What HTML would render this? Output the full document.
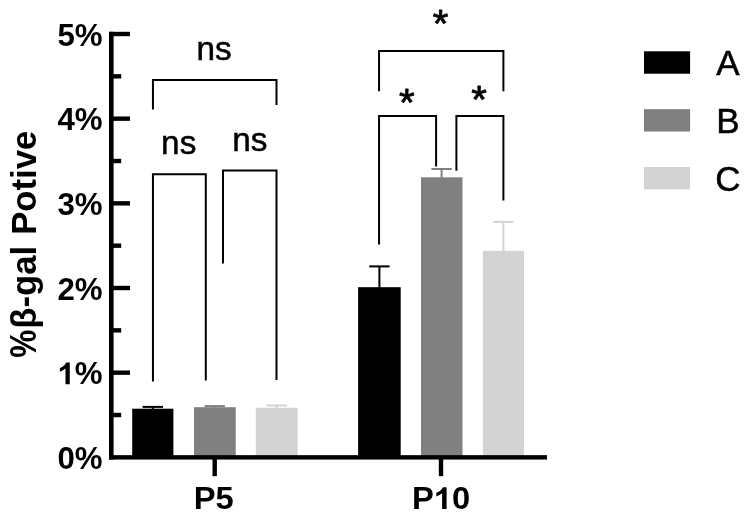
<!DOCTYPE html>
<html><head><meta charset="utf-8"><title>chart</title>
<style>
html,body{margin:0;padding:0;background:#fff;}
body{width:751px;height:518px;overflow:hidden;}
svg{display:block;font-family:"Liberation Sans",sans-serif;fill:#000;filter:grayscale(1);}
</style></head><body>
<svg width="751" height="518" viewBox="0 0 751 518">
<rect width="751" height="518" fill="#fff"/>
<rect x="142.60" y="405.90" width="20.4" height="2" fill="#000"/>
<rect x="151.80" y="406.90" width="2" height="2.30" fill="#000"/>
<rect x="204.50" y="405.10" width="20.4" height="2" fill="#808080"/>
<rect x="213.70" y="406.10" width="2" height="1.60" fill="#808080"/>
<rect x="266.50" y="404.50" width="20.4" height="2" fill="#d3d3d3"/>
<rect x="275.70" y="405.50" width="2" height="2.80" fill="#d3d3d3"/>
<rect x="369.20" y="265.40" width="20.4" height="2" fill="#000"/>
<rect x="378.40" y="266.40" width="2" height="21.30" fill="#000"/>
<rect x="431.40" y="168.00" width="20.4" height="2" fill="#808080"/>
<rect x="440.60" y="169.00" width="2" height="8.80" fill="#808080"/>
<rect x="493.20" y="220.90" width="20.4" height="2" fill="#d3d3d3"/>
<rect x="502.40" y="221.90" width="2" height="29.50" fill="#d3d3d3"/>
<rect x="132.2" y="408.7" width="41.20" height="47.30" fill="#000"/>
<rect x="194.0" y="407.2" width="41.70" height="48.80" fill="#808080"/>
<rect x="255.8" y="407.8" width="41.90" height="48.20" fill="#d3d3d3"/>
<rect x="358.1" y="287.2" width="42.60" height="168.80" fill="#000"/>
<rect x="421.0" y="177.3" width="41.50" height="278.70" fill="#808080"/>
<rect x="483.0" y="250.9" width="41.00" height="205.10" fill="#d3d3d3"/>
<rect x="109" y="31.80" width="4.6" height="427.75" fill="#000"/>
<rect x="109" y="455.15" width="438" height="4.4" fill="#000"/>
<rect x="109" y="370.48" width="21" height="4.4" fill="#000"/>
<rect x="109" y="285.81" width="21" height="4.4" fill="#000"/>
<rect x="109" y="201.14" width="21" height="4.4" fill="#000"/>
<rect x="109" y="116.47" width="21" height="4.4" fill="#000"/>
<rect x="109" y="31.80" width="21" height="4.4" fill="#000"/>
<rect x="109" y="412.82" width="12.2" height="4.4" fill="#000"/>
<rect x="109" y="328.15" width="12.2" height="4.4" fill="#000"/>
<rect x="109" y="243.48" width="12.2" height="4.4" fill="#000"/>
<rect x="109" y="158.81" width="12.2" height="4.4" fill="#000"/>
<rect x="109" y="74.14" width="12.2" height="4.4" fill="#000"/>
<rect x="212.50" y="457.35" width="4.4" height="18.85" fill="#000"/>
<rect x="438.80" y="457.35" width="4.4" height="18.85" fill="#000"/>
<path d="M152.95 109.4V80.0H276.5V104.9" fill="none" stroke="#000" stroke-width="2" stroke-linejoin="miter"/>
<path d="M152.95 381.6V174.25H205.8V380.6" fill="none" stroke="#000" stroke-width="2" stroke-linejoin="miter"/>
<path d="M223.0 263.5V170.5H276.5V380.0" fill="none" stroke="#000" stroke-width="2" stroke-linejoin="miter"/>
<path d="M379.05 91.3V50.9H503.4V91.3" fill="none" stroke="#000" stroke-width="2" stroke-linejoin="miter"/>
<path d="M379.05 244.5V116.05H436.1V166.6" fill="none" stroke="#000" stroke-width="2" stroke-linejoin="miter"/>
<path d="M456.4 170.8V116.05H503.4V200.6" fill="none" stroke="#000" stroke-width="2" stroke-linejoin="miter"/>
<text transform="translate(102.60 468.95) scale(0.985 1)" font-size="31.7" font-weight="bold" text-anchor="end">0%</text>
<text transform="translate(102.60 384.28) scale(0.985 1)" font-size="31.7" font-weight="bold" text-anchor="end">%</text>
<path transform="translate(57.48 384.28) scale(0.015246 -0.014813)" d="M806 0H525V1059Q371 915 162 846V1101Q272 1137 401 1237.5Q530 1338 578 1472H806Z" fill="#000"/>
<text transform="translate(102.60 299.61) scale(0.985 1)" font-size="31.7" font-weight="bold" text-anchor="end">2%</text>
<text transform="translate(102.60 214.94) scale(0.985 1)" font-size="31.7" font-weight="bold" text-anchor="end">3%</text>
<text transform="translate(102.60 130.27) scale(0.985 1)" font-size="31.7" font-weight="bold" text-anchor="end">4%</text>
<text transform="translate(102.60 45.60) scale(0.985 1)" font-size="31.7" font-weight="bold" text-anchor="end">5%</text>
<text transform="translate(213.80 509.10) scale(1.032 1)" font-size="31.7" font-weight="bold" text-anchor="middle">P5</text>
<text transform="translate(411.90 509.00) scale(1.032 1)" font-size="31.7" font-weight="bold" text-anchor="start">P</text>
<path transform="translate(433.72 509.00) scale(0.015974 -0.014813)" d="M806 0H525V1059Q371 915 162 846V1101Q272 1137 401 1237.5Q530 1338 578 1472H806Z" fill="#000"/>
<text transform="translate(451.91 509.00) scale(1.032 1)" font-size="31.7" font-weight="bold" text-anchor="start">0</text>
<text transform="translate(214.10 60.10)" font-size="33.3" font-weight="normal" text-anchor="middle" stroke="#000" stroke-width="0.5">ns</text>
<text transform="translate(178.70 154.20)" font-size="33.3" font-weight="normal" text-anchor="middle" stroke="#000" stroke-width="0.5">ns</text>
<text transform="translate(249.80 150.60)" font-size="33.3" font-weight="normal" text-anchor="middle" stroke="#000" stroke-width="0.5">ns</text>
<text transform="translate(440.65 36.60) scale(1 0.945)" font-size="40.2" font-weight="normal" text-anchor="middle" stroke="#000" stroke-width="0.8" stroke-linejoin="round">*</text>
<text transform="translate(406.90 116.40) scale(1 0.945)" font-size="40.2" font-weight="normal" text-anchor="middle" stroke="#000" stroke-width="0.8" stroke-linejoin="round">*</text>
<text transform="translate(479.00 113.00) scale(1 0.945)" font-size="40.2" font-weight="normal" text-anchor="middle" stroke="#000" stroke-width="0.8" stroke-linejoin="round">*</text>
<rect x="644" y="51.30" width="46.1" height="22.4" fill="#000"/>
<text transform="translate(727.80 75.20) scale(0.975 1)" font-size="35.9" font-weight="normal" text-anchor="middle" stroke="#000" stroke-width="0.5">A</text>
<rect x="644" y="109.15" width="46.1" height="22.4" fill="#808080"/>
<text transform="translate(727.80 133.05) scale(0.975 1)" font-size="35.9" font-weight="normal" text-anchor="middle" stroke="#000" stroke-width="0.5">B</text>
<rect x="644" y="167.00" width="46.1" height="22.4" fill="#d3d3d3"/>
<text transform="translate(727.80 190.90) scale(0.975 1)" font-size="35.9" font-weight="normal" text-anchor="middle" stroke="#000" stroke-width="0.5">C</text>
<text transform="translate(35.60 328.70) rotate(-90) scale(1 1.02)" font-size="34.7" font-weight="bold" text-anchor="start" word-spacing="1.4">β-gal Potive</text>
<text transform="translate(35.60 343.70) rotate(-90) scale(0.908 1.06)" font-size="34.7" font-weight="bold" text-anchor="middle">%</text>
</svg>
</body></html>
